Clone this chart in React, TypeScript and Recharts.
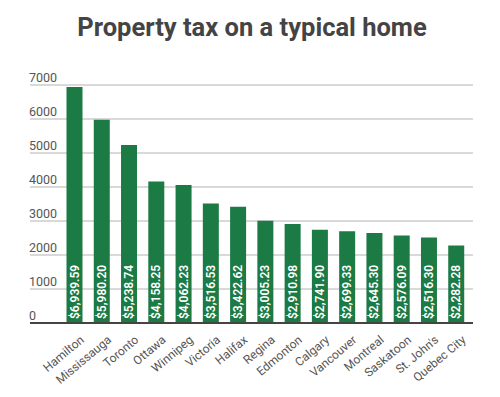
import { Bar, BarChart, CartesianGrid, LabelList, XAxis, YAxis } from "recharts";

const cities = [
  "Hamilton",
  "Mississauga",
  "Toronto",
  "Ottawa",
  "Winnipeg",
  "Victoria",
  "Halifax",
  "Regina",
  "Edmonton",
  "Calgary",
  "Vancouver",
  "Montreal",
  "Saskatoon",
  "St. John's",
  "Quebec City",
];
const taxes = [
  6939.59, 5980.2, 5238.74, 4158.25, 4062.23, 3516.53, 3422.62, 3005.23, 2910.98, 2741.9, 2699.33,
  2645.3, 2576.09, 2516.3, 2282.28,
];
const yTicks = [0, 1000, 2000, 3000, 4000, 5000, 6000, 7000];

const data = cities.map((city, i) => ({ city, tax: taxes[i] }));

const font = "Roboto, 'Noto Sans', sans-serif";

const money = (v: number) =>
  "$" + v.toLocaleString("en-US", { minimumFractionDigits: 2, maximumFractionDigits: 2 });

function YTick({ y, payload }: any) {
  // labels sit on top of each gridline, flush with its left end
  return (
    <text x={29} y={y - 3} textAnchor="start" fontSize={12.5} fill="#555" fontFamily={font}>
      {payload.value}
    </text>
  );
}

function XTick({ x, y, payload }: any) {
  return (
    <g transform={`translate(${x + 5},${y + 4})`}>
      <text textAnchor="end" transform="rotate(-40)" fontSize={12} fill="#555" fontFamily={font} dy={8}>
        {payload.value}
      </text>
    </g>
  );
}

function BarValue({ x, y, width, height, value }: any) {
  const cx = x + width / 2;
  const by = y + height - 4;
  return (
    <text
      x={cx}
      y={by}
      transform={`rotate(-90 ${cx} ${by})`}
      textAnchor="start"
      dominantBaseline="central"
      fontSize={12}
      fontWeight={600}
      fill="#fff"
      fontFamily={font}
    >
      {money(value)}
    </text>
  );
}

export default function App() {
  return (
    <div style={{ position: "absolute", left: 0, top: 0, width: 500, height: 397, background: "#fff" }}>
      <div
        style={{
          position: "absolute",
          left: 0,
          top: 12,
          width: 504,
          textAlign: "center",
          fontFamily: font,
          fontWeight: 700,
          fontSize: 25.5,
          color: "#444",
        }}
      >
        Property tax on a typical home
      </div>
      <BarChart
        width={500}
        height={397}
        data={data}
        margin={{ top: 85, right: 27, left: 0, bottom: 0 }}
        barCategoryGap={5.5}
      >
        <CartesianGrid horizontal vertical={false} stroke="#ccc" strokeWidth={1.5} />
        <YAxis
          width={30}
          domain={[0, 7000]}
          ticks={yTicks}
          tick={<YTick />}
          tickLine={false}
          axisLine={false}
          interval={0}
        />
        <XAxis
          dataKey="city"
          height={74}
          interval={0}
          padding={{ left: 31, right: 3 }}
          tick={<XTick />}
          tickLine={false}
          axisLine={{ stroke: "#444", strokeWidth: 2 }}
        />
        <Bar dataKey="tax" fill="#1c7a44" isAnimationActive={false}>
          <LabelList dataKey="tax" content={<BarValue />} />
        </Bar>
      </BarChart>
    </div>
  );
}
